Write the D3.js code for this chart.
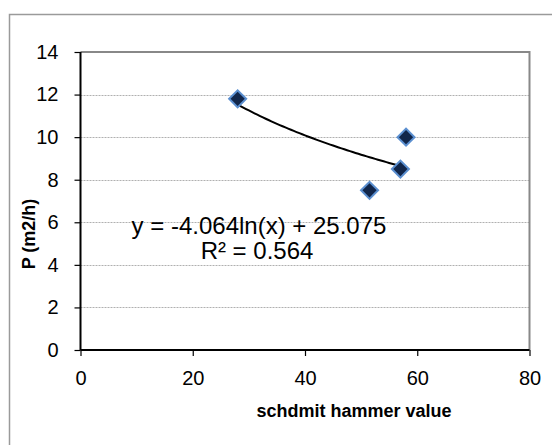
<!DOCTYPE html>
<html>
<head>
<meta charset="utf-8">
<script src="https://cdn.jsdelivr.net/npm/d3@7"></script>
<style>
  html, body { margin: 0; padding: 0; background: #fff; }
  svg { display: block; font-family: "Liberation Sans", Arial, sans-serif; }
</style>
</head>
<body>
<svg id="chart" width="552" height="445"></svg>
<script>
// ---- data ----
const hammerValues = [28, 51.5, 57, 58];
const productivity = [11.8, 7.5, 8.5, 10];
const xTicks = [0, 20, 40, 60, 80];
const yTicks = [0, 2, 4, 6, 8, 10, 12, 14];
const trendCoef = [-4.064, 25.075];          // y = a ln(x) + b
const equationLines = ["y = -4.064ln(x) + 25.075", "R\u00B2 = 0.564"];
const xTitle = "schdmit hammer value";
const yTitle = "P (m2/h)";

// ---- layout ----
const svg = d3.select("#chart");
const plot = { left: 80.5, right: 529.5, top: 52, bottom: 350 };

// outer chart border (top and left visible; continues beyond the crop)
svg.append("path")
  .attr("d", "M9.5,460V14.5H560")
  .attr("fill", "none").attr("stroke", "#9a9a9a").attr("stroke-width", 1.5);

const x = d3.scaleLinear().domain([0, 80]).range([plot.left, plot.right]);
const y = d3.scaleLinear().domain([0, 14]).range([plot.bottom, plot.top]);

// gridlines
svg.append("g").selectAll("line")
  .data(yTicks.filter(t => t > 0 && t < 14))
  .join("line")
  .attr("x1", plot.left).attr("x2", plot.right)
  .attr("y1", d => Math.round(y(d)) + 0.5).attr("y2", d => Math.round(y(d)) + 0.5)
  .attr("stroke", "#b0b0b0").attr("stroke-width", 1)
  .attr("stroke-dasharray", "2,1");

// plot frame top & right (gray)
svg.append("path")
  .attr("d", `M${plot.left},${plot.top}H${plot.right}V${plot.bottom}`)
  .attr("fill", "none").attr("stroke", "#888").attr("stroke-width", 2);

// axes
const xAxis = d3.axisBottom(x).tickValues(xTicks).tickSize(6).tickPadding(15);
const yAxis = d3.axisLeft(y).tickValues(yTicks).tickSize(6).tickPadding(16);

const gx = svg.append("g").attr("transform", `translate(0,${plot.bottom})`).call(xAxis);
const gy = svg.append("g").attr("transform", `translate(${plot.left},0)`).call(yAxis);

[gx, gy].forEach(g => {
  g.select(".domain").attr("stroke", "#000").attr("stroke-width", 2);
  g.selectAll(".tick line").attr("stroke", "#000").attr("stroke-width", 1.2);
  g.selectAll(".tick text")
    .attr("fill", "#000")
    .style("font-family", "'Liberation Sans', Arial, sans-serif")
    .style("font-size", "20px");
});
gx.select(".domain").attr("d", `M${plot.left},0H${plot.right}`);
gy.select(".domain").attr("d", `M0,${plot.bottom}V${plot.top}`);

// trendline
const lnLine = d3.line()
  .x(d => x(d))
  .y(d => y(trendCoef[0] * Math.log(d) + trendCoef[1]));
const xMin = d3.min(hammerValues), xMax = d3.max(hammerValues);
const trendX = d3.range(0, 61).map(i => xMin + (xMax - xMin) * i / 60);
svg.append("path")
  .datum(trendX)
  .attr("d", lnLine)
  .attr("fill", "none").attr("stroke", "#000").attr("stroke-width", 2);

// markers (diamonds)
const diamond = d3.symbol().type(d3.symbolSquare).size(145);
svg.append("g").selectAll("path")
  .data(hammerValues.map((v, i) => [v, productivity[i]]))
  .join("path")
  .attr("d", diamond)
  .attr("transform", d => `translate(${x(d[0])},${y(d[1])}) rotate(45)`)
  .attr("fill", "#11264a").attr("stroke", "#5b8fd0").attr("stroke-width", 2);

// equation
const eq = svg.append("text")
  .attr("text-anchor", "middle")
  .attr("fill", "#000")
  .style("font-size", "24px");
eq.append("tspan").attr("x", 259).attr("y", 234).text(equationLines[0]);
eq.append("tspan").attr("x", 257).attr("y", 259).text(equationLines[1]);

// axis titles
svg.append("text")
  .attr("x", 354).attr("y", 417)
  .attr("text-anchor", "middle")
  .style("font-size", "18px").style("font-weight", "bold")
  .text(xTitle);

svg.append("text")
  .attr("transform", "translate(35,234) rotate(-90)")
  .attr("text-anchor", "middle")
  .style("font-size", "18px").style("font-weight", "bold")
  .text(yTitle);
</script>
</body>
</html>
